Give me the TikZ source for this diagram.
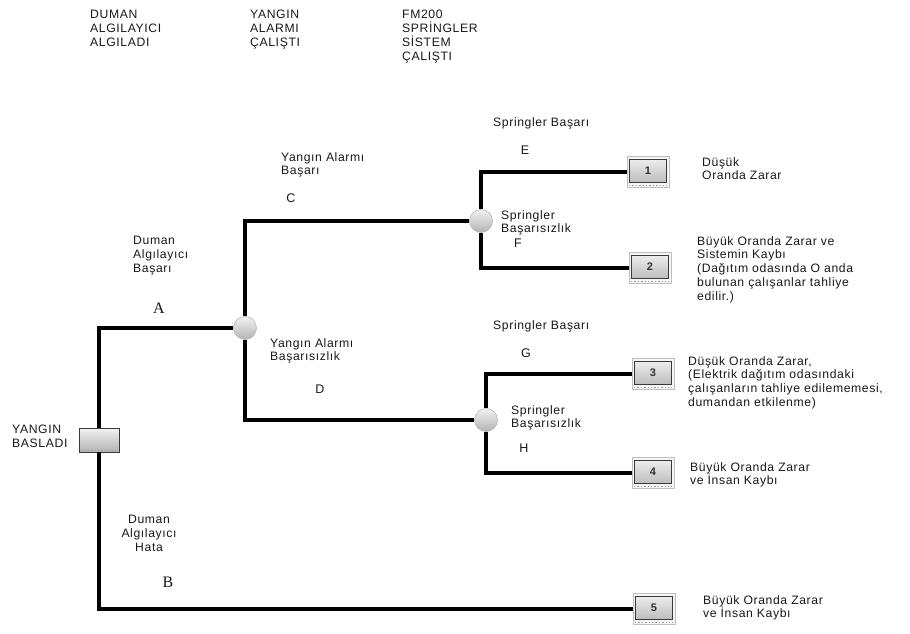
\documentclass[tikz,border=0pt]{standalone}
\usepackage{fontspec}
\setmainfont{Liberation Sans}[LetterSpace=5]
\newfontfamily\serifl{Liberation Serif}
\begin{document}
\begin{tikzpicture}[x=1pt,y=-1pt,
  lbl/.style={font=\fontsize{12.2}{13.8}\selectfont, align=left, inner sep=0pt, anchor=north west, text=black!90},
  lblc/.style={lbl, align=center, anchor=north},
  letr/.style={font=\fontsize{12.5}{14}\selectfont, inner sep=0pt, text=black!90},
  sletr/.style={font=\serifl\fontsize{16}{18}\selectfont, inner sep=0pt, text=black!90},
  conn/.style={line width=3.2pt, black},
  outbox/.style={draw=gray!50, line width=0.7pt, minimum width=42pt, minimum height=31pt, inner sep=0pt,
    fill=gray!8,
    path picture={
      \draw[gray!45!black, line width=0.9pt, top color=gray!10, bottom color=gray!60]
        ([shift={(2.5pt,-2.5pt)}]path picture bounding box.north west) rectangle ([shift={(-2.5pt,5.5pt)}]path picture bounding box.south east);
      \draw[gray!75, dotted, line width=1.4pt] ([shift={(2pt,2pt)}]path picture bounding box.south west) -- ([shift={(-2pt,2pt)}]path picture bounding box.south east);
      \node[font=\fontsize{11}{12}\selectfont\bfseries, text=black!80] at ([yshift=1.5pt]path picture bounding box.center) {\boxnum};
    }},
  startbox/.style={draw=gray!45!black, line width=0.8pt, minimum width=40pt, minimum height=24pt, inner sep=0pt,
    top color=gray!10, bottom color=gray!60,
    path picture={
      \draw[gray!75, dotted, line width=1.4pt] ([shift={(2pt,1.5pt)}]path picture bounding box.south west) -- ([shift={(-2pt,1.5pt)}]path picture bounding box.south east);
    }},
  chance/.style={circle, draw=gray!55, line width=0.6pt, minimum size=23pt, inner sep=0pt,
    top color=gray!10, bottom color=gray!60}
]
\useasboundingbox[fill=white] (0,0) rectangle (910,634);

% header labels
\node[lbl] (h1) at (90,10) {DUMAN\\ALGILAYICI\\ALGILADI};
\node[lbl] (h2) at (250,10) {YANGIN\\ALARMI\\ÇALIŞTI};
\node[lbl] (h3) at (402,10) {FM200\\SPRİNGLER\\SİSTEM\\ÇALIŞTI};

% nodes
\node[startbox] (start) at (99,440) {};
\node[chance] (c1) at (245,328) {};
\node[chance] (c2) at (481,221) {};
\node[chance] (c3) at (486,420) {};
\def\boxnum{1}\node[outbox] (o1) at (648,172) {};
\def\boxnum{2}\node[outbox] (o2) at (650,268) {};
\def\boxnum{3}\node[outbox] (o3) at (653,374) {};
\def\boxnum{4}\node[outbox] (o4) at (653,473) {};
\def\boxnum{5}\node[outbox] (o5) at (654,609) {};

% connectors
\draw[conn] (start.north) |- (c1.west);
\draw[conn] (start.south) |- (o5.west);
\draw[conn] (c1.north) |- (c2.west);
\draw[conn] (c1.south) |- (c3.west);
\draw[conn] (c2.north) |- (o1.west);
\draw[conn] (c2.south) |- (o2.west);
\draw[conn] (c3.north) |- (o3.west);
\draw[conn] (c3.south) |- (o4.west);

% start label
\node[lbl] (ls) at (12,425) {YANGIN\\BASLADI};

% branch labels
\node[lbl] (la) at (133,236) {Duman\\Algılayıcı\\Başarı};
\node[sletr] (A) at (159,308) {A};
\node[lblc] (lb) at (149,515) {Duman\\Algılayıcı\\Hata};
\node[sletr] (B) at (168,582) {B};
\node[lbl] (lc) at (281,152) {Yangın Alarmı\\Başarı};
\node[letr] (C) at (291,198) {C};
\node[lbl] (ld) at (270,338) {Yangın Alarmı\\Başarısızlık};
\node[letr] (D) at (320,389) {D};
\node[lbl] (le) at (493,117) {Springler Başarı};
\node[letr] (E) at (525,150) {E};
\node[lbl] (lf) at (501,210) {Springler\\Başarısızlık};
\node[letr] (F) at (518,243) {F};
\node[lbl] (lg) at (493,320) {Springler Başarı};
\node[letr] (G) at (526,353) {G};
\node[lbl] (lh) at (511,405) {Springler\\Başarısızlık};
\node[letr] (H) at (524,448) {H};

% outcome labels
\node[lbl] (t1) at (702,157) {Düşük\\Oranda Zarar};
\node[lbl] (t2) at (697,236) {Büyük Oranda Zarar ve\\Sistemin Kaybı\\(Dağıtım odasında O anda\\bulunan çalışanlar tahliye\\edilir.)};
\node[lbl] (t3) at (688,356) {Düşük Oranda Zarar,\\(Elektrik dağıtım odasındaki\\çalışanların tahliye edilememesi,\\dumandan etkilenme)};
\node[lbl] (t4) at (690,462) {Büyük Oranda Zarar\\ve İnsan Kaybı};
\node[lbl] (t5) at (703,595) {Büyük Oranda Zarar\\ve İnsan Kaybı};
\end{tikzpicture}
\end{document}
